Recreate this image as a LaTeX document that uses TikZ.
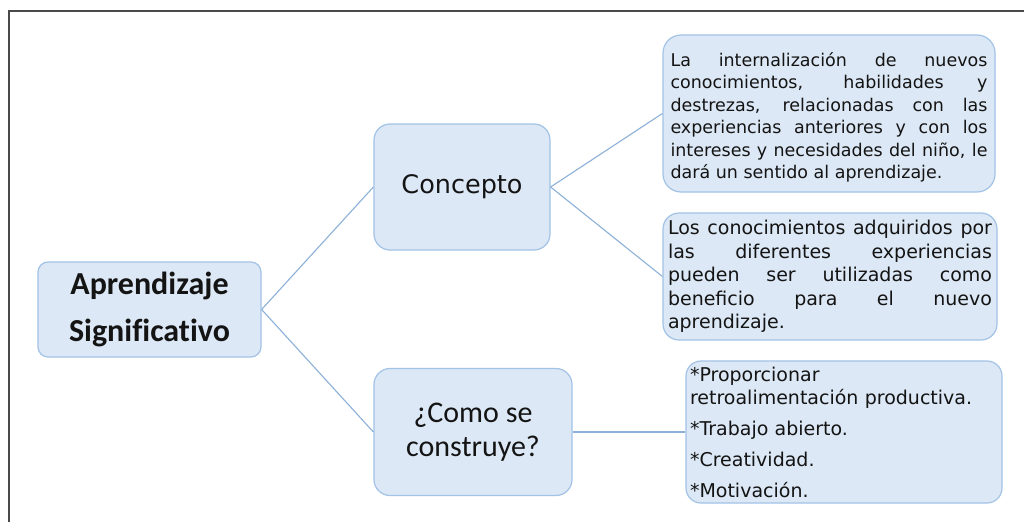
\documentclass[tikz,border=0pt]{standalone}
\usepackage{fontspec}
\setmainfont{DejaVu Sans}
\newfontfamily\calib[Ligatures=NoCommon]{Carlito}
\definecolor{boxfill}{HTML}{DCE8F5}
\definecolor{boxline}{HTML}{A2C3E6}
\definecolor{linkcol}{HTML}{8DB0D8}
\definecolor{framecol}{HTML}{4A4A4A}
\definecolor{txt}{HTML}{141414}
\begin{document}
\begin{tikzpicture}[x=1pt,y=-1pt,
  box/.style={draw=boxline, fill=boxfill, line width=1.2pt, rounded corners=14pt, text=txt, inner sep=0pt},
  link/.style={draw=linkcol, line width=1.1pt}]
\useasboundingbox (0,0) rectangle (1024,522);
\fill[white] (0,0) rectangle (1024,522);
\draw[framecol, line width=1.5pt] (9,522) -- (9,11) -- (1024,11);

\node[box, rounded corners=10pt, minimum width=223pt, minimum height=95pt, align=center,
  font=\calib\bfseries\fontsize{32}{47}\selectfont] (root) at (149.5,309.5) {Aprendizaje\\Significativo};

\node[box, rounded corners=16pt, minimum width=176pt, minimum height=126pt,
  font=\fontsize{25.5}{30}\selectfont] (con) at (462,187) {Concepto};

\node[box, rounded corners=16pt, minimum width=198pt, minimum height=127pt, align=center,
  font=\calib\fontsize{30}{34}\selectfont] (como) at (473,432) {¿Como se\\construye?};

\node[box, rounded corners=18pt, text width=317pt, inner xsep=7.5pt, minimum height=157pt, align=justify,
  font=\fontsize{17.5}{22.4}\selectfont] (t1) at (829,113.5)
  {\parindent=0pt\tolerance=10000\hyphenpenalty=10000\rule{0pt}{21.5pt}La internalización de nuevos\linebreak
   conocimientos, habilidades y\linebreak
   destrezas, relacionadas con las\linebreak
   experiencias anteriores y con los\linebreak
   intereses y necesidades del niño, le\linebreak
   dará un sentido al aprendizaje.};

\node[box, rounded corners=16pt, text width=324pt, inner xsep=5pt, minimum height=127pt, align=justify,
  font=\fontsize{19}{23.4}\selectfont] (t2) at (830,276.5)
  {\parindent=0pt\tolerance=10000\hyphenpenalty=10000 Los conocimientos adquiridos por\linebreak
   las diferentes experiencias\linebreak
   pueden ser utilizadas como\linebreak
   beneficio para el nuevo\linebreak
   aprendizaje.};

\node[box, rounded corners=15pt, text width=308pt, inner xsep=4pt, minimum height=142pt, align=left,
  font=\fontsize{19}{23}\selectfont] (t3) at (844,432)
  {\parindent=0pt\parskip=8pt *Proporcionar\newline
   retroalimentación productiva.\par
   *Trabajo abierto.\par
   *Creatividad.\par
   *Motivación.};

\draw[link] (root.east) -- (con.west);
\draw[link] (root.east) -- (como.west);
\draw[link] (con.east) -- (t1.west);
\draw[link] (con.east) -- (t2.west);
\draw[link] (como.east) -- (t3.west);
\end{tikzpicture}
\end{document}
